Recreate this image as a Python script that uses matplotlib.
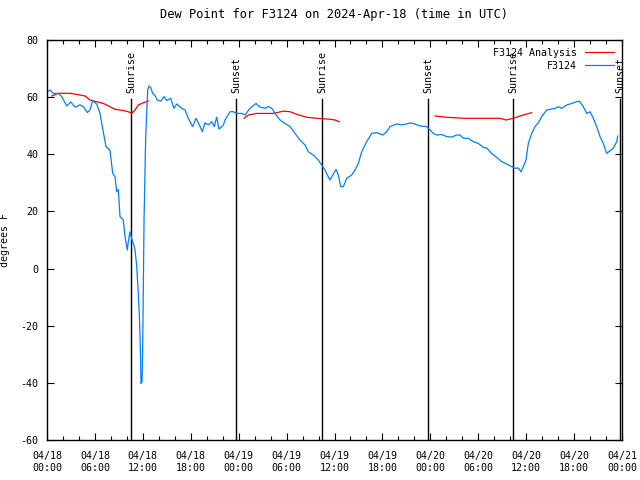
import matplotlib
matplotlib.use("Agg")
import matplotlib.pyplot as plt
import numpy as np

# =========================
# STYLE
# =========================
plt.rcParams.update({
    "font.family": "DejaVu Sans Mono",
    "font.size": 7.2,
    "axes.unicode_minus": False,
    "xtick.direction": "in",
    "ytick.direction": "in",
    "xtick.top": True,
    "ytick.right": True,
})

# =========================
# DATA (hours since 2024-04-18 00:00 UTC)
# =========================
obs_hours = [0.16, 0.38, 0.79, 1.42, 1.84, 2.47, 2.97, 3.51, 4.13, 4.55, 5.05, 5.38, 5.72,
             6.22, 6.64, 6.92, 7.39, 7.89, 8.23, 8.51, 8.73, 8.93, 9.14, 9.55, 9.77, 10.06,
             10.18, 10.39, 10.64, 10.81, 11.02, 11.23, 11.43, 11.56, 11.65, 11.73, 11.77,
             11.90, 11.98, 12.06, 12.15, 12.36, 12.61, 12.77, 12.99, 13.24, 13.52, 13.81,
             14.24, 14.65, 14.99, 15.49, 15.90, 16.24, 16.87, 17.28, 17.69, 18.24, 18.66,
             19.07, 19.45, 19.78, 20.20, 20.62, 20.95, 21.25, 21.54, 21.66, 22.08, 22.29,
             22.92, 23.33, 23.75, 24.38, 24.79, 25.42, 26.17, 26.67, 27.30, 27.71, 28.14,
             28.55, 29.18, 29.80, 30.43, 31.05, 31.68, 32.31, 32.72, 33.35, 33.97, 34.40,
             34.81, 35.10, 35.44, 35.78, 36.19, 36.48, 36.78, 37.10, 37.53, 38.15, 38.57,
             38.98, 39.41, 40.03, 40.66, 41.28, 42.04, 42.54, 42.95, 43.79, 44.42, 45.04,
             45.45, 46.08, 46.71, 47.55, 47.96, 48.37, 48.80, 49.42, 50.05, 50.68, 51.30,
             51.71, 52.13, 52.75, 53.38, 54.01, 54.63, 55.06, 55.68, 56.31, 56.94, 57.56,
             58.19, 58.60, 59.02, 59.35, 59.64, 59.98, 60.27, 60.69, 61.11, 61.52, 61.95,
             62.57, 63.20, 63.61, 64.03, 64.45, 65.08, 65.70, 66.33, 66.65, 67.16, 67.58,
             68.00, 68.41, 68.83, 69.25, 69.66, 70.08, 70.50, 70.91, 71.34, 71.46]
obs_dewpt = [62.1, 62.5, 61.3, 61.3, 60.2, 56.9, 58.3, 56.5, 57.3, 56.7, 54.6, 55.5, 58.8,
             57.6, 54.3, 49.7, 42.7, 41.3, 33.3, 32.2, 26.9, 27.7, 18.2, 17.0, 11.2, 6.5,
             9.4, 12.9, 10.0, 8.8, 6.5, 1.0, -8.7, -16.3, -23.8, -33.0, -40.2,
             -39.6, -28.5, -7.5, 17.0, 46.2, 62.5, 63.9, 63.3, 61.3, 60.6, 59.0,
             58.6, 60.2, 58.8, 59.6, 56.1, 57.6, 56.1, 55.5, 52.6, 49.7, 52.6,
             50.3, 47.9, 51.0, 50.3, 51.4, 49.7, 53.0, 48.8, 49.1, 50.2, 52.0,
             54.9, 54.9, 54.3, 54.3, 53.75, 56.1, 57.8, 56.5, 56.1, 56.7, 56.1,
             54.3, 52.0, 50.8, 49.7, 47.3, 45.0, 43.25, 40.9, 39.7, 38.0, 36.25,
             34.5, 32.75, 31.0, 32.75, 34.7, 32.75, 28.65, 28.65, 31.6, 32.75, 34.5,
             36.8, 40.9, 44.4, 47.3, 47.6, 46.75, 47.9, 49.7, 50.6, 50.3, 50.6,
             51.0, 50.6, 49.9, 49.7, 48.5, 47.3, 46.75, 46.9, 46.2, 46.0, 46.75,
             46.75, 45.6, 45.6, 44.4, 43.8, 42.4, 42.2, 40.3, 38.9, 37.4, 36.6,
             35.65, 35.1, 35.2, 33.9, 35.65, 38.0, 43.8, 47.3, 49.7, 51.0, 53.2,
             55.5, 55.85, 56.1, 56.65, 56.1, 57.25, 57.8, 58.4, 58.6, 56.65, 54.3,
             54.9, 52.6, 49.7, 46.2, 43.8, 40.3, 41.25, 42.1, 44.4, 46.4]

ana_hours = [0.59, 1.42, 2.88, 4.13, 4.76, 5.38, 6.22, 7.05, 7.89, 8.51, 9.55, 10.18,
             10.61, 11.02, 11.43, 12.06, 12.68, np.nan,
             24.67, 25.21, 26.26, 28.34, 29.59, 30.43, 31.27, 32.52, 33.77, 35.44, 36.06,
             36.60, np.nan,
             48.59, 50.05, 52.13, 56.72, 57.48, 58.39, 59.23, 60.07, 60.69]
ana_dewpt = [60.4, 61.35, 61.35, 60.75, 60.4, 59.0, 58.4, 57.8, 56.65, 55.75, 55.3, 54.9,
             54.3, 55.5, 57.25, 58.05, 58.65, np.nan,
             52.6, 53.75, 54.3, 54.3, 55.1, 54.9, 54.0, 52.95, 52.6, 52.25, 52.0,
             51.4, np.nan,
             53.4, 52.95, 52.6, 52.6, 52.0, 52.6, 53.4, 54.1, 54.55]

sun_hours = [10.52, 23.67, 34.43, 47.71, 58.35, 71.75]
sun_labels = ["Sunrise", "Sunset", "Sunrise", "Sunset", "Sunrise", "Sunset"]

xtick_hours = list(range(0, 73, 6))
xtick_labels = ["04/18\n00:00", "04/18\n06:00", "04/18\n12:00", "04/18\n18:00",
                "04/19\n00:00", "04/19\n06:00", "04/19\n12:00", "04/19\n18:00",
                "04/20\n00:00", "04/20\n06:00", "04/20\n12:00", "04/20\n18:00",
                "04/21\n00:00"]

# =========================
# FIGURE
# =========================
fig = plt.figure(figsize=(6.4, 4.8), dpi=100)
ax = fig.add_axes([47 / 640, 40 / 480, 575 / 640, 400 / 480])

for h, lab in zip(sun_hours, sun_labels):
    ax.plot([h, h], [-60, 59.3], color="black", lw=1.0)
    ax.text(h, 61.5, lab, rotation=90, ha="center", va="bottom")

ax.plot(ana_hours, ana_dewpt, color="#ff0000", lw=0.9, label="F3124 Analysis")
ax.plot(obs_hours, obs_dewpt, color="#0080ff", lw=0.9, label="F3124")

ax.set_xlim(0, 72)
ax.set_ylim(-60, 80)
ax.set_xticks(xtick_hours)
ax.set_xticklabels(xtick_labels)
ax.set_xticks(np.arange(0, 73, 2), minor=True)
ax.set_yticks(np.arange(-60, 81, 20))
ax.tick_params(which="major", length=5, width=0.8, pad=6)
ax.tick_params(which="minor", length=3, width=0.8)
ax.tick_params(axis="x", which="major", pad=8)

for s in ax.spines.values():
    s.set_linewidth(1.0)

ax.set_title("Dew Point for F3124 on 2024-Apr-18 (time in UTC)", pad=16)
ax.set_ylabel("degrees F")
ax.yaxis.set_label_coords(-37 / 575, 0.5)

ax.legend(loc="upper right", frameon=False, markerfirst=False, handlelength=2.9,
          borderaxespad=0.4, labelspacing=0.3, handletextpad=0.8)

fig.savefig("out.png", dpi=100)
